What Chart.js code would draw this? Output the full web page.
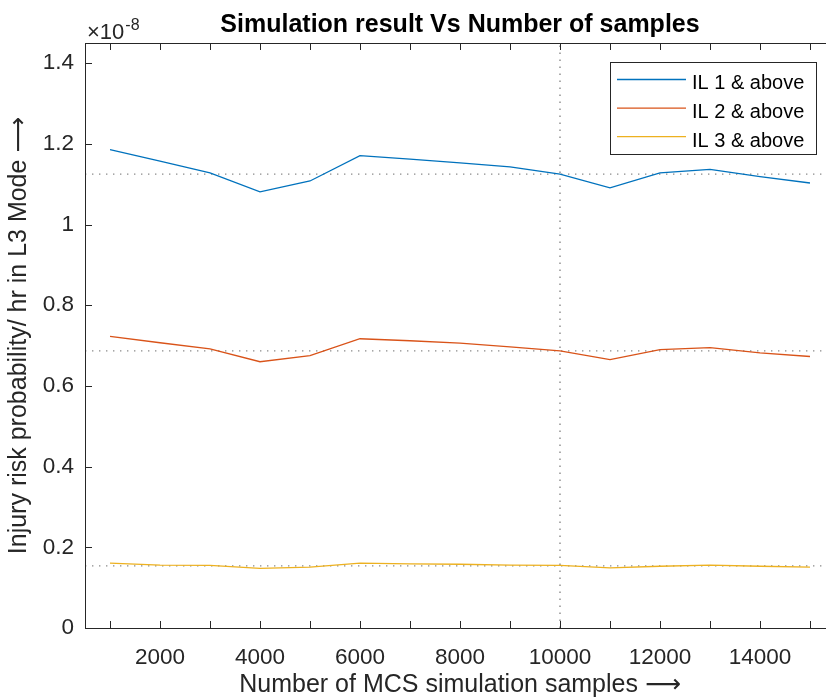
<!DOCTYPE html>
<html>
<head>
<meta charset="utf-8">
<script src="https://cdn.jsdelivr.net/npm/chart.js@4/dist/chart.umd.min.js"></script>
<style>
  html, body { margin: 0; padding: 0; background: #fff; overflow: hidden; }
  canvas { display: block; }
</style>
</head>
<body>
<canvas id="riskChart" width="840" height="700"></canvas>
<script>
// sample counts on the x axis
const SAMPLES = [1000, 2000, 3000, 4000, 5000, 6000, 7000, 8000, 9000, 10000, 11000, 12000, 13000, 14000, 15000];

// probabilities, in units of 1e-8
const IL1 = [1.186, 1.157, 1.128, 1.081, 1.108, 1.171, 1.162, 1.153, 1.143, 1.125, 1.091, 1.128, 1.137, 1.119, 1.103];
const IL2 = [0.723, 0.707, 0.692, 0.660, 0.675, 0.717, 0.712, 0.706, 0.697, 0.687, 0.665, 0.690, 0.695, 0.682, 0.673];
const IL3 = [0.161, 0.156, 0.155, 0.148, 0.151, 0.161, 0.159, 0.158, 0.156, 0.155, 0.149, 0.153, 0.156, 0.153, 0.151];

const SERIES_LABELS = ["IL 1 & above", "IL 2 & above", "IL 3 & above"];
const SERIES_COLORS = ["#0072BD", "#D95319", "#EDB120"];

// converged levels and the chosen sample count
const REF_LEVELS = [1.125, 0.687, 0.154];
const REF_SAMPLES = 10000;

const X_MIN = 500, X_MAX = 15500;
const Y_MIN = 0, Y_MAX = 1.45;
const Y_TICKS = [0, 0.2, 0.4, 0.6, 0.8, 1, 1.2, 1.4];

const AXIS_COLOR = "#262626";
const FONT = "'Liberation Sans', Arial, Helvetica, 'DejaVu Sans', sans-serif";

const toPoints = (ys) => SAMPLES.map((x, i) => ({ x: x, y: ys[i] }));

const datasets = [];
[IL1, IL2, IL3].forEach((ys, i) => {
    datasets.push({
        label: SERIES_LABELS[i],
        data: toPoints(ys),
        borderColor: SERIES_COLORS[i],
        borderWidth: 1.3,
        pointRadius: 0,
        tension: 0,
        fill: false,
    });
});
REF_LEVELS.forEach(level => {
    datasets.push({
        label: "ref",
        data: [{ x: X_MIN, y: level }, { x: X_MAX, y: level }],
        borderColor: "#8a8a8a",
        borderWidth: 1.4,
        borderDash: [1.4, 5.6],
        pointRadius: 0,
        fill: false,
    });
});
datasets.push({
    label: "ref",
    data: [{ x: REF_SAMPLES, y: Y_MIN }, { x: REF_SAMPLES, y: Y_MAX }],
    borderColor: "#8a8a8a",
    borderWidth: 1.4,
    borderDash: [1.4, 5.6],
    pointRadius: 0,
    fill: false,
});

// box, inward ticks, title, exponent and legend
const decorations = {
    id: "decorations",
    afterDraw(chart) {
        const c = chart.ctx;
        const a = chart.chartArea;
        const xs = chart.scales.x, ys = chart.scales.y;
        c.save();
        c.strokeStyle = AXIS_COLOR;
        c.lineWidth = 1;
        c.beginPath();
        c.moveTo(a.left + 0.5, a.top + 0.5);
        c.lineTo(a.left + 0.5, a.bottom + 0.5);
        c.lineTo(a.right, a.bottom + 0.5);
        c.moveTo(a.left, a.top + 0.5);
        c.lineTo(a.right, a.top + 0.5);
        SAMPLES.forEach(v => {
            const px = Math.round(xs.getPixelForValue(v)) + 0.5;
            c.moveTo(px, a.bottom);
            c.lineTo(px, a.bottom - 7);
            c.moveTo(px, a.top);
            c.lineTo(px, a.top + 7);
        });
        Y_TICKS.forEach(v => {
            const py = Math.round(ys.getPixelForValue(v)) + 0.5;
            c.moveTo(a.left, py);
            c.lineTo(a.left + 7, py);
        });
        c.stroke();

        // title
        c.fillStyle = "#000";
        c.font = "bold 25px " + FONT;
        c.textAlign = "center";
        c.textBaseline = "alphabetic";
        c.fillText("Simulation result Vs Number of samples", (a.left + a.right) / 2, 32);

        // exponent
        c.fillStyle = AXIS_COLOR;
        c.textAlign = "left";
        c.font = "22px " + FONT;
        c.fillText("\u00d710", 87, 39);
        const w = c.measureText("\u00d710").width;
        c.font = "16px " + FONT;
        c.fillText("-8", 87 + w + 1, 30);

        // legend
        const lx = 610, ly = 62, lw = 206, lh = 92;
        c.fillStyle = "#fff";
        c.fillRect(lx, ly, lw, lh);
        c.strokeStyle = AXIS_COLOR;
        c.strokeRect(lx + 0.5, ly + 0.5, lw, lh);
        c.font = "20px " + FONT;
        c.textBaseline = "alphabetic";
        SERIES_LABELS.forEach((lab, i) => {
            const yy = 79.5 + i * 28.6;
            c.strokeStyle = SERIES_COLORS[i];
            c.lineWidth = 1.3;
            c.beginPath();
            c.moveTo(617, yy);
            c.lineTo(686, yy);
            c.stroke();
            c.fillStyle = "#000";
            c.fillText(lab, 692, yy + 9.8);
        });
        c.restore();
    }
};

const ctx = document.getElementById("riskChart").getContext("2d");
window.myChart = new Chart(ctx, {
    type: "line",
    data: { datasets: datasets },
    options: {
        responsive: false,
        animation: false,
        layout: { padding: { top: 43, left: 0, right: 5, bottom: 0 } },
        plugins: {
            legend: { display: false },
            tooltip: { enabled: false },
        },
        scales: {
            x: {
                type: "linear",
                min: X_MIN,
                max: X_MAX,
                afterBuildTicks: (s) => { s.ticks = SAMPLES.map(v => ({ value: v })); },
                afterFit: (s) => { s.height = 72; },
                grid: { display: false, drawTicks: false },
                border: { display: false },
                ticks: {
                    autoSkip: false,
                    maxRotation: 0,
                    padding: 16,
                    color: AXIS_COLOR,
                    font: { family: FONT, size: 22.5 },
                    callback: (v) => (v % 2000 === 0 ? String(v) : ""),
                },
                title: {
                    display: true,
                    text: "Number of MCS simulation samples \u27f6",
                    color: AXIS_COLOR,
                    font: { family: FONT, size: 25 },
                    padding: { top: 0, bottom: 0 },
                },
            },
            y: {
                min: Y_MIN,
                max: Y_MAX,
                afterBuildTicks: (s) => { s.ticks = Y_TICKS.map(v => ({ value: v })); },
                afterFit: (s) => { s.width = 85; },
                grid: { display: false, drawTicks: false },
                border: { display: false },
                ticks: {
                    padding: 11,
                    color: AXIS_COLOR,
                    font: { family: FONT, size: 22.5 },
                    callback: (v) => String(Math.round(v * 10) / 10),
                },
                title: {
                    display: true,
                    text: "Injury risk probability/ hr in L3 Mode \u27f6",
                    color: AXIS_COLOR,
                    font: { family: FONT, size: 25 },
                    padding: { top: 4, bottom: 0 },
                },
            },
        },
    },
    plugins: [decorations],
});
</script>
</body>
</html>
